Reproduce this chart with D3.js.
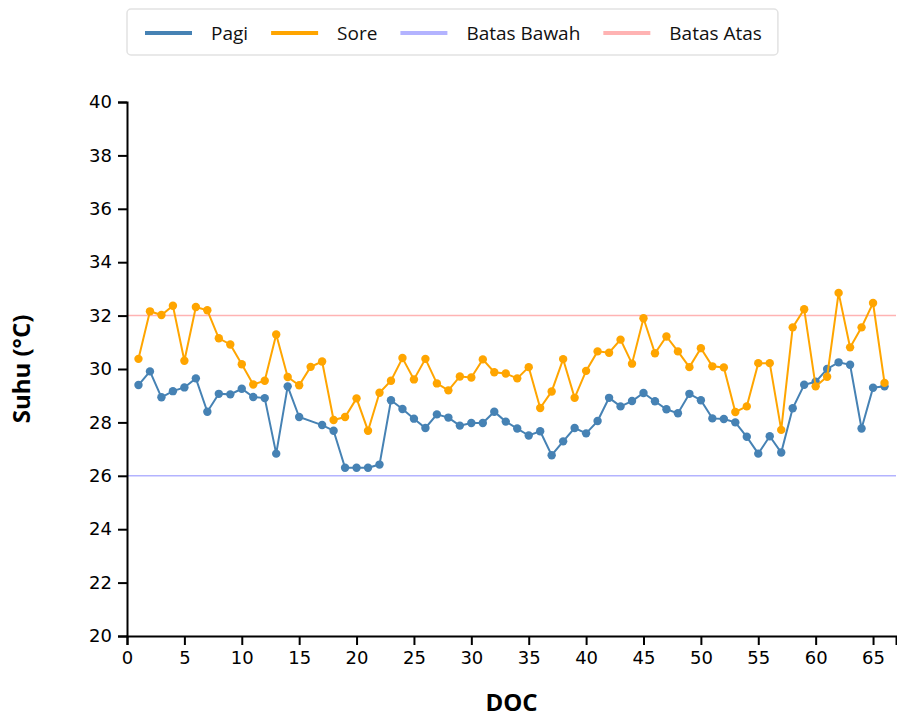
<!DOCTYPE html>
<html>
<head>
<meta charset="utf-8">
<script src="https://cdn.jsdelivr.net/npm/d3@7"></script>
<style>
  body { margin: 0; background: #fff; }
  .tick text { font-family: "DejaVu Sans", sans-serif; font-size: 18px; fill: #000; }
  .axis path, .axis line { stroke: #000; stroke-width: 2; }
</style>
</head>
<body>
<div id="chart_container"></div>
<script>
const W = 897, H = 719;

// day of culture
const doc = [1, 2, 3, 4, 5, 6, 7, 8, 9, 10, 11, 12, 13, 14, 15, 16, 17, 18, 19, 20, 21, 22,
  23, 24, 25, 26, 27, 28, 29, 30, 31, 32, 33, 34, 35, 36, 37, 38, 39, 40, 41, 42, 43, 44,
  45, 46, 47, 48, 49, 50, 51, 52, 53, 54, 55, 56, 57, 58, 59, 60, 61, 62, 63, 64, 65, 66];

// morning temperature (no reading on day 16)
const pagi = [29.40, 29.91, 28.94, 29.17, 29.31, 29.65, 28.40, 29.07, 29.05, 29.26, 28.95, 28.91,
  26.83, 29.35, 28.20, null, 27.90, 27.69, 26.30, 26.30, 26.30, 26.42,
  28.83, 28.50, 28.14, 27.79, 28.30, 28.18, 27.88, 27.98, 27.98, 28.40, 28.03, 27.77,
  27.51, 27.67, 26.77, 27.29, 27.79, 27.59, 28.05, 28.92, 28.60, 28.80,
  29.10, 28.79, 28.49, 28.34, 29.07, 28.83, 28.15, 28.13, 28.00, 27.46, 26.83, 27.48,
  26.87, 28.53, 29.41, 29.52, 30.00, 30.25, 30.16, 27.77, 29.30, 29.35];

// afternoon temperature
const sore = [30.38, 32.16, 32.02, 32.37, 30.31, 32.32, 32.20, 31.15, 30.92, 30.18, 29.42, 29.56,
  31.29, 29.70, 29.39, 30.08, 30.28, 28.09, 28.20, 28.90, 27.69, 29.11,
  29.56, 30.41, 29.61, 30.38, 29.46, 29.20, 29.72, 29.68, 30.36, 29.88, 29.83, 29.65,
  30.07, 28.54, 29.16, 30.37, 28.92, 29.93, 30.66, 30.61, 31.10, 30.20,
  31.90, 30.59, 31.22, 30.66, 30.07, 30.78, 30.10, 30.06, 28.39, 28.60, 30.22, 30.22,
  27.72, 31.56, 32.24, 29.35, 29.71, 32.85, 30.81, 31.56, 32.47, 29.48];

const batasBawah = 26;
const batasAtas = 32;

const legendLabels = ["Pagi", "Sore", "Batas Bawah", "Batas Atas"];
const legendColors = ["#4682b4", "#ffa500", "#b3b3ff", "#ffb3b3"];

const xTicks = [0, 5, 10, 15, 20, 25, 30, 35, 40, 45, 50, 55, 60, 65];
const yTicks = [20, 22, 24, 26, 28, 30, 32, 34, 36, 38, 40];

var margin = { top: 102, right: 1, bottom: 83, left: 127 };
const width = W - margin.left - margin.right,
      height = H - margin.top - margin.bottom;

var svg = d3.select("#chart_container")
  .append("svg")
  .attr("width", W)
  .attr("height", H);

var root = svg.append("g")
  .attr("transform", "translate(" + margin.left + "," + margin.top + ")");

var x = d3.scaleLinear().domain([0, 67]).range([0, width]);
var y = d3.scaleLinear().domain([20, 40]).range([height, 0]);

// threshold lines
root.append("line")
  .attr("x1", 0).attr("x2", width)
  .attr("y1", y(batasBawah)).attr("y2", y(batasBawah))
  .attr("stroke", legendColors[2]).attr("stroke-width", 1.5);
root.append("line")
  .attr("x1", 0).attr("x2", width)
  .attr("y1", y(batasAtas)).attr("y2", y(batasAtas))
  .attr("stroke", legendColors[3]).attr("stroke-width", 1.5);

// axes
root.append("g")
  .attr("class", "axis")
  .attr("transform", "translate(0," + height + ")")
  .call(d3.axisBottom(x).tickValues(xTicks).tickSize(9).tickPadding(6));

root.append("g")
  .attr("class", "axis")
  .call(d3.axisLeft(y).tickValues(yTicks).tickSize(9).tickPadding(6));

// series
function drawSeries(values, color) {
  var pts = doc.map((d, i) => ({ d: d, v: values[i] })).filter(p => p.v != null);
  var line = d3.line().x(p => x(p.d)).y(p => y(p.v));
  root.append("path")
    .datum(pts)
    .attr("fill", "none")
    .attr("stroke", color)
    .attr("stroke-width", 2)
    .attr("d", line);
  root.append("g").selectAll("circle")
    .data(pts)
    .join("circle")
    .attr("cx", p => x(p.d))
    .attr("cy", p => y(p.v))
    .attr("r", 4.2)
    .attr("fill", color);
}
drawSeries(pagi, legendColors[0]);
drawSeries(sore, legendColors[1]);

// axis titles
svg.append("text")
  .attr("x", margin.left + x(33.5))
  .attr("y", 711)
  .attr("text-anchor", "middle")
  .style("font-family", "'Open Sans', sans-serif")
  .style("font-weight", "bold")
  .style("font-size", "24px")
  .text("DOC");

svg.append("text")
  .attr("transform", "translate(30," + (margin.top + height / 2) + ") rotate(-90)")
  .attr("text-anchor", "middle")
  .style("font-family", "'Open Sans', sans-serif")
  .style("font-weight", "bold")
  .style("font-size", "24px")
  .text("Suhu (°C)");

// legend
var legend = svg.append("g");
var box = legend.append("rect")
  .attr("x", 127).attr("y", 9)
  .attr("height", 46)
  .attr("rx", 4)
  .attr("fill", "#fff")
  .attr("stroke", "#e2e2e2")
  .attr("stroke-width", 1.5);

var cx = 145;
legendLabels.forEach((lab, i) => {
  legend.append("line")
    .attr("x1", cx).attr("x2", cx + 47)
    .attr("y1", 33).attr("y2", 33)
    .attr("stroke", legendColors[i])
    .attr("stroke-width", 4);
  var t = legend.append("text")
    .attr("x", cx + 66)
    .attr("y", 39.5)
    .style("font-family", "'Open Sans', sans-serif")
    .style("font-size", "19px")
    .attr("fill", "#111")
    .text(lab);
  cx = cx + 66 + t.node().getComputedTextLength() + 23;
});
box.attr("width", cx - 23 + 16 - 127);
</script>
</body>
</html>
